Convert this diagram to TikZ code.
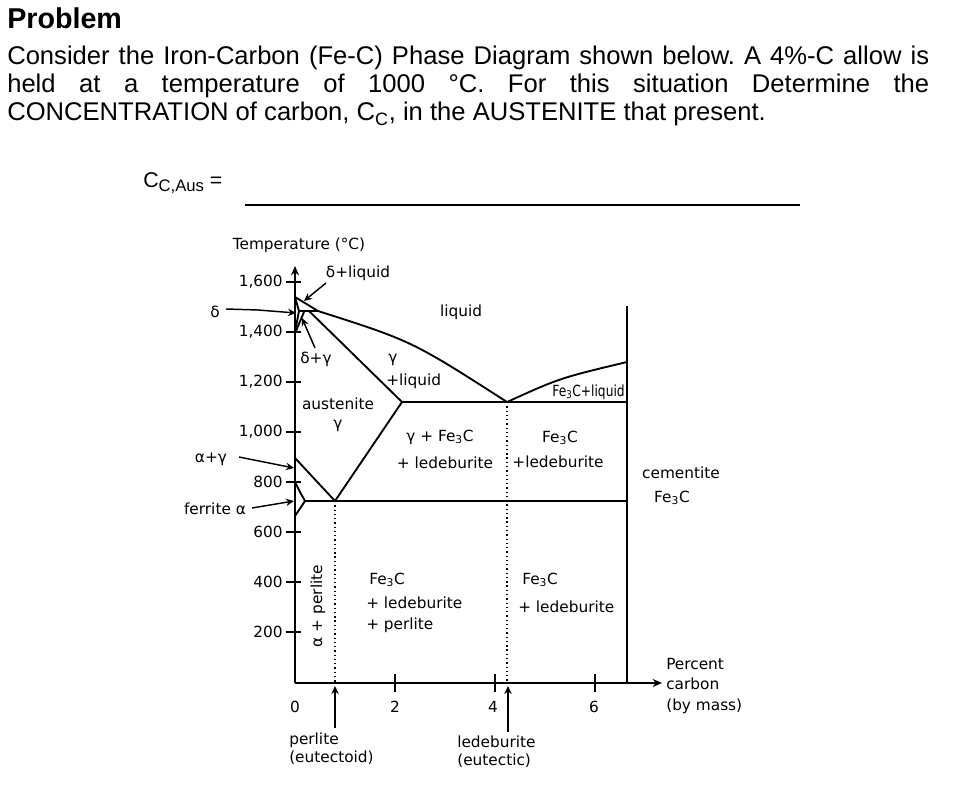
\documentclass[tikz,border=0pt]{standalone}
\usepackage{fontspec}
\setmainfont{Liberation Sans}
\newfontfamily\dvs{DejaVu Sans}
\usetikzlibrary{arrows.meta}
\newcommand\fec{Fe\textsubscript{3}C}
\frenchspacing
\begin{document}
\begin{tikzpicture}[x=0.75pt,y=-0.75pt,
  body/.style={anchor=base west,inner sep=0,font=\fontsize{19.2}{22}\selectfont},
  lab/.style={inner sep=0,font=\dvs\fontsize{11.5}{13.5}\selectfont},
  phase/.style={line width=1.4pt,line join=round},
  axisline/.style={line width=1.5pt},
  tick/.style={line width=1.1pt},
  dotl/.style={line width=1pt,dash pattern=on 1pt off 2.2pt},
  ann/.style={line width=1.1pt,-{Stealth[length=6pt,width=5.5pt]}},
  axarrow/.style={line width=1.5pt,-{Stealth[length=7pt,width=6pt,open]}}
]
\useasboundingbox (0,0) rectangle (954,795);

% ---------- problem text ----------
\node[body,font=\bfseries\fontsize{21.5}{24}\selectfont] (title) at (7,29) {Problem};
\node[body] (line1) at (7,65) {\makebox[691.5pt][s]{Consider the Iron-Carbon (Fe-C) Phase Diagram shown below. A 4\%-C allow is}};
\node[body] (line2) at (7,93) {\makebox[691.5pt][s]{held at a temperature of 1000 °C. For this situation Determine the}};
\node[body] (line3) at (7,121) {CONCENTRATION of carbon, C\textsubscript{C}, in the AUSTENITE that present.};
\node[anchor=base west,inner sep=0] (ccaus) at (143,188) {\fontsize{16}{18}\selectfont C\raisebox{-3pt}{\fontsize{12.5}{14}\selectfont C,Aus} =};
\coordinate (ulA) at (245,205);
\coordinate (ulB) at (800,205);
\draw[line width=0.9pt] (ulA) -- (ulB);

% ---------- axes ----------
\coordinate (O) at (295,683);
\coordinate (ytop) at (295,266);
\coordinate (xend) at (662,683);
\draw[axarrow] (O) -- (ytop);
\draw[axarrow] (O) -- (xend);

\node[lab] (ytitle) at (299,245) {Temperature (°C)};
\foreach \T/\lbl in {1600/{1,600},1400/{1,400},1200/{1,200},1000/{1,000},800/800,600/600,400/400,200/200}{
  \draw[tick] (286,{682-\T/4}) -- (301,{682-\T/4});
  \node[lab,anchor=east] (yl\T) at (283,{682-\T/4}) {\lbl};
}
\foreach \c in {2,4,6}{
  \draw[tick] ({295+50*\c},674) -- ({295+50*\c},692);
}
\node[lab] (x0) at (295,707) {0};
\node[lab] (x2) at (395,707) {2};
\node[lab] (x4) at (493,707) {4};
\node[lab] (x6) at (594,707) {6};

% ---------- phase boundaries ----------
\coordinate (melt) at (295,297);
\coordinate (perR) at (318,311);
\coordinate (perL) at (299,311);
\coordinate (sol0) at (309,311);
\coordinate (eut) at (507,402);
\coordinate (gmax) at (402,402);
\coordinate (cemTop) at (627,306);
\coordinate (cemLiq) at (627,362);
\coordinate (cemEut) at (627,402);
\coordinate (cemEd) at (627,501);
\coordinate (cemBot) at (627,683);
\coordinate (eutd) at (335,501);
\coordinate (a3top) at (295,458);
\coordinate (alfa1) at (295,482);
\coordinate (alfa2) at (305,501);
\coordinate (alfa3) at (295,516);
\coordinate (dg1) at (304,312);
\coordinate (dg2) at (296,331);
\coordinate (dl3) at (295,332);

\draw[phase] (melt) -- (perR) .. controls (412,341) .. (eut) .. controls (560,378) .. (cemLiq);
\draw[phase] (melt) -- (perL) -- (dl3);
\draw[phase] (perL) -- (perR);
\draw[phase] (dg1) -- (dg2);
\draw[phase] (sol0) -- (gmax);
\draw[phase] (gmax) -- (cemEut);
\draw[phase] (gmax) -- (eutd);
\draw[phase] (a3top) -- (eutd);
\draw[phase] (alfa1) -- (300,492) -- (alfa2) -- (alfa3);
\draw[phase] (alfa2) -- (cemEd);
\draw[phase] (cemTop) -- (cemBot);
\coordinate (eutdB) at (335,683);
\coordinate (eutB) at (507,683);
\draw[dotl] (eutd) -- (eutdB);
\draw[dotl] (eut) -- (eutB);

% ---------- annotation arrows ----------
\node[lab] (ldelta) at (215,312) {δ};
\coordinate (sdelta) at (226,309);
\coordinate (tdelta) at (296,313);
\draw[ann] (sdelta) -- (258,310) -- (tdelta);

\node[lab] (ldliq) at (358,273) {δ+liquid};
\coordinate (tdliq) at (304,301);
\draw[ann] (326,283) -- (tdliq);

\node[lab] (ldg) at (316,359) {δ+γ};
\coordinate (tdg) at (302,318);
\draw[ann] (315,348) -- (tdg);

\node[lab] (lag) at (211,459) {α+γ};
\coordinate (tag) at (294,468);
\draw[ann] (239,457) -- (tag);

\node[lab] (lfa) at (215,509) {ferrite α};
\coordinate (tfa) at (294,501);
\draw[ann] (252,508) -- (tfa);

% ---------- region labels ----------
\node[lab] (rliq) at (461,312) {liquid};
\node[lab] (rgam) at (393,360) {γ};
\node[lab,anchor=west] (rgliq) at (386,381) {+liquid};
\node[lab] (raus) at (338,404) {austenite};
\node[lab] (raus2) at (338,426) {γ};
\node[lab] (rgf) at (440,437) {γ + \fec};
\node[lab] (rgf2) at (445,463) {+ ledeburite};
\node[lab] (rff) at (560,438) {\fec};
\node[lab] (rff2) at (558,462) {+ledeburite};
\node[lab,anchor=east] (rfl) at (625,392) {\scalebox{0.8}[1]{\fec+liquid}};
\node[lab] (rcem) at (681,473) {cementite};
\node[lab] (rcem2) at (672,498) {\fec};
\node[lab,anchor=west] (rl1) at (369,580) {\fec};
\node[lab,anchor=west] (rl2) at (366,603) {+ ledeburite};
\node[lab,anchor=west] (rl3) at (366,625) {+ perlite};
\node[lab,anchor=west] (rr1) at (522,580) {\fec};
\node[lab,anchor=west] (rr2) at (518,607) {+ ledeburite};
\node[lab,rotate=90] (rap) at (318,606) {α + perlite};

% ---------- bottom labels ----------
\node[lab,anchor=north west,align=left] (lper) at (289,733) {perlite\\(eutectoid)};
\coordinate (sper) at (335,728);
\coordinate (tper) at (335,686);
\draw[ann] (sper) -- (tper);
\node[lab,anchor=north west,align=left] (lled) at (457,736) {ledeburite\\(eutectic)};
\coordinate (sled) at (508,732);
\coordinate (tled) at (508,686);
\draw[ann] (sled) -- (tled);
\node[lab,anchor=west,align=left,font=\dvs\fontsize{11.5}{15.5}\selectfont] (lpc) at (666,686) {Percent\\carbon\\(by mass)};
\end{tikzpicture}
\end{document}
